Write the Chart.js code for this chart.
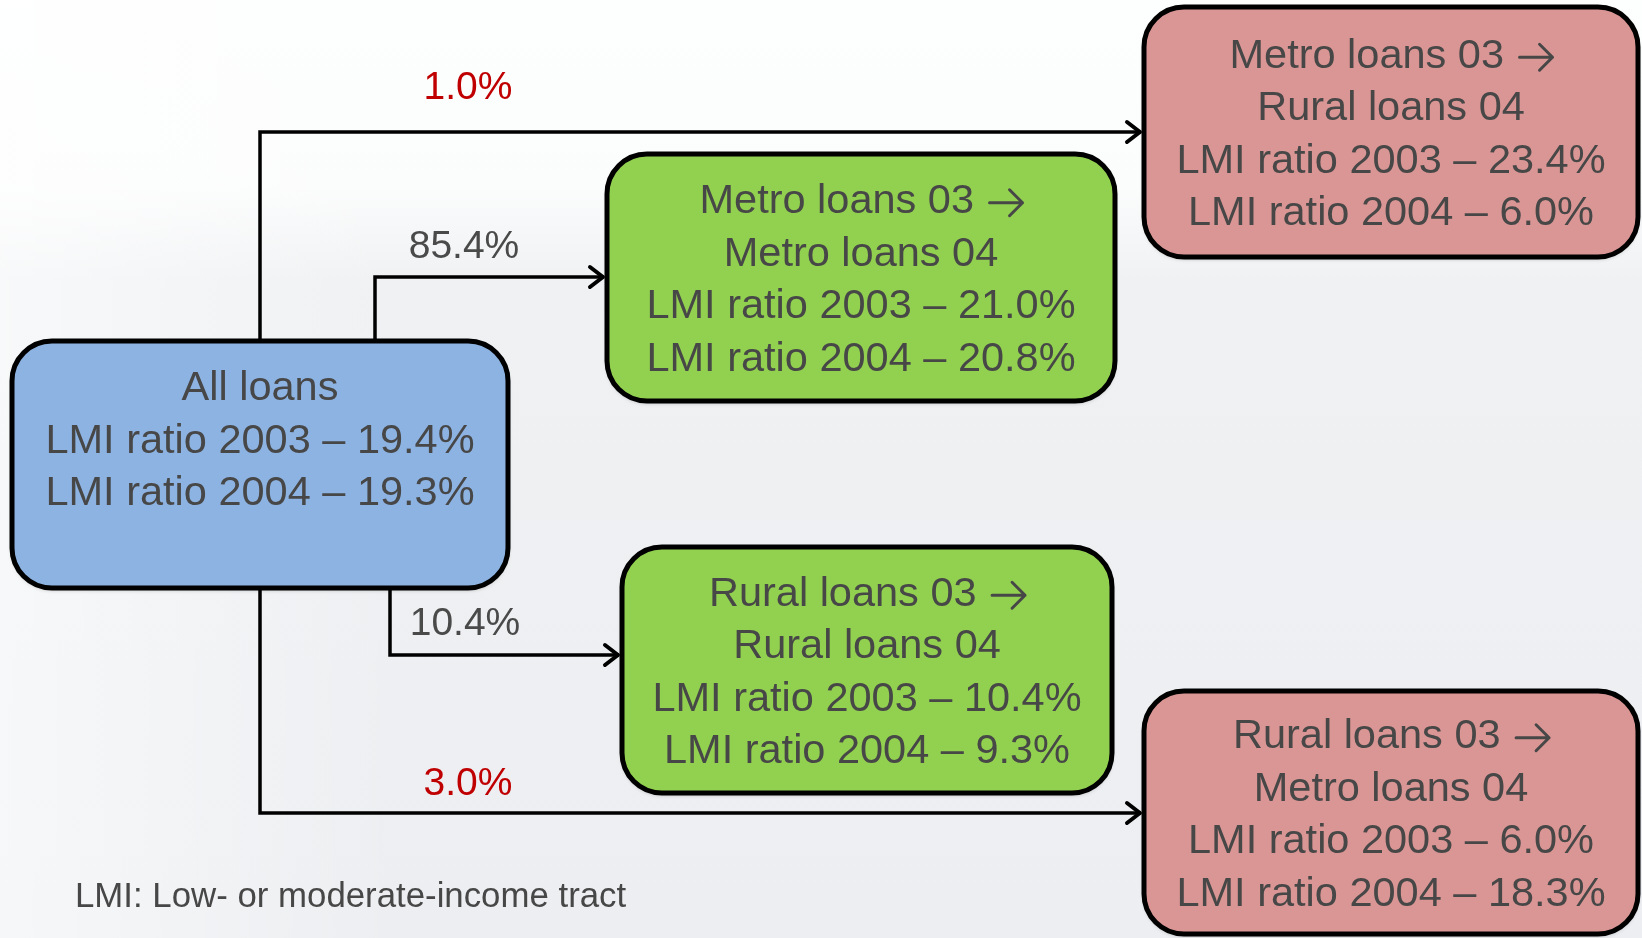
<!DOCTYPE html>
<html>
<head>
<meta charset="utf-8">
<script src="https://cdn.jsdelivr.net/npm/chart.js@4"></script>
<style>
  html, body { margin: 0; padding: 0; overflow: hidden; background: #fff; }
  #flow { display: block; }
</style>
</head>
<body>
<canvas id="flow" width="1642" height="938"></canvas>
<script>
// data: loan groups and LMI ratios
const groups       = ['All loans', 'Metro loans 03', 'Rural loans 03', 'Metro loans 03', 'Rural loans 03'];
const destinations = ['', 'Metro loans 04', 'Rural loans 04', 'Rural loans 04', 'Metro loans 04'];
const lmi2003 = [19.4, 21.0, 10.4, 23.4, 6.0];
const lmi2004 = [19.3, 20.8, 9.3, 6.0, 18.3];
// share of all loans flowing into boxes 1..4
const flowShares = [85.4, 10.4, 1.0, 3.0];
const footnote = 'LMI: Low- or moderate-income tract';

// layout (canvas-sized axis units)
const boxRects  = [[12, 341, 508, 588], [607, 154, 1115, 401], [622, 547, 1112, 793], [1144, 7, 1638, 257], [1144, 691, 1638, 934]];
const boxColors = ['#8db3e2', '#92d050', '#92d050', '#d99694', '#d99694'];
const flowPaths = [
    [[375, 341], [375, 277], [604, 277]],
    [[390, 588], [390, 655], [619, 655]],
    [[260, 341], [260, 132], [1141, 132]],
    [[260, 588], [260, 813], [1141, 813]]
];
const flowLabelPos = [[464, 247], [465, 624], [468, 88], [468, 784]];
const flowColors = ['#4a4a4a', '#4a4a4a', '#c00000', '#c00000'];

const textFont  = '41.5px "Liberation Sans", Arial, sans-serif';
const textColor = '#474747';

// open arrow head used as the point style of the last point on each connector
const arrowHead = document.createElement('canvas');
arrowHead.width = 48; arrowHead.height = 28;
(function () {
    const c = arrowHead.getContext('2d');
    c.strokeStyle = '#000';
    c.lineWidth = 4;
    c.lineCap = 'round';
    c.lineJoin = 'round';
    c.beginPath();
    c.moveTo(10, 4);
    c.lineTo(23, 14);
    c.lineTo(10, 24);
    c.stroke();
})();

const pct = v => v.toFixed(1) + '%';

const datasets = flowPaths.map((p, i) => ({
    label: 'flow ' + (i + 1),
    data: p.map(q => ({ x: q[0], y: q[1] })),
    showLine: true,
    borderColor: '#000',
    borderWidth: 3.5,
    tension: 0,
    pointRadius: ctx => ctx.dataIndex === p.length - 1 ? 10 : 0,
    pointStyle: ctx => ctx.dataIndex === p.length - 1 ? arrowHead : 'circle',
    clip: false
}));

const backdrop = {
    id: 'backdrop',
    beforeDraw(chart) {
        const c = chart.ctx;
        const g = c.createLinearGradient(0, 0, 0, chart.height);
        g.addColorStop(0, '#fdfefe');
        g.addColorStop(0.2, '#fbfcfc');
        g.addColorStop(0.3, '#eff1f3');
        g.addColorStop(1, '#eceef1');
        c.save();
        c.fillStyle = g;
        c.fillRect(0, 0, chart.width, chart.height);
        const g2 = c.createLinearGradient(0, 0, 400, 0);
        g2.addColorStop(0, 'rgba(255,255,255,0.55)');
        g2.addColorStop(1, 'rgba(255,255,255,0)');
        c.fillStyle = g2;
        c.fillRect(0, 0, 400, chart.height);
        c.restore();
    }
};

// "text →" centred; the arrow is stroked so it is as big as in the slide
const ARROW_W = 33;
function textWithArrow(c, t, x, y) {
    c.font = textFont;
    const w1 = c.measureText(t + ' ').width + 4;
    const left = x - (w1 + ARROW_W) / 2;
    c.textAlign = 'left';
    c.fillText(t, left, y);
    const ax = left + w1, ay = y + 1;
    c.save();
    c.strokeStyle = textColor;
    c.lineWidth = 3;
    c.lineCap = 'round';
    c.lineJoin = 'round';
    c.beginPath();
    c.moveTo(ax, ay);
    c.lineTo(ax + ARROW_W, ay);
    c.moveTo(ax + ARROW_W - 13, ay - 13);
    c.lineTo(ax + ARROW_W, ay);
    c.lineTo(ax + ARROW_W - 13, ay + 13);
    c.stroke();
    c.restore();
    c.textAlign = 'center';
}

const boxesAndText = {
    id: 'boxesAndText',
    afterDatasetsDraw(chart) {
        const c = chart.ctx;
        const xs = chart.scales.x, ys = chart.scales.y;
        c.save();
        boxRects.forEach((r, i) => {
            const x0 = xs.getPixelForValue(r[0]), x1 = xs.getPixelForValue(r[2]);
            const y0 = ys.getPixelForValue(r[1]), y1 = ys.getPixelForValue(r[3]);
            c.beginPath();
            c.roundRect(x0, y0, x1 - x0, y1 - y0, 40);
            c.shadowColor = 'rgba(0,0,0,0.25)';
            c.shadowBlur = 4;
            c.shadowOffsetY = 2;
            c.fillStyle = boxColors[i];
            c.fill();
            c.shadowColor = 'transparent';
            c.lineWidth = 5;
            c.strokeStyle = '#000';
            c.stroke();

            const cx = xs.getPixelForValue((r[0] + r[2]) / 2), cy = (r[1] + r[3]) / 2;
            const lineY = k => ys.getPixelForValue(cy + (k - 1.5) * 52.5 + 3);
            c.font = textFont;
            c.fillStyle = textColor;
            c.textAlign = 'center';
            c.textBaseline = 'middle';
            let k = 0;
            if (destinations[i]) {
                textWithArrow(c, groups[i], cx, lineY(k++));
                c.fillText(destinations[i], cx, lineY(k++));
            } else {
                c.fillText(groups[i], cx, lineY(k++));
            }
            c.fillText('LMI ratio 2003 – ' + pct(lmi2003[i]), cx, lineY(k++));
            c.fillText('LMI ratio 2004 – ' + pct(lmi2004[i]), cx, lineY(k++));
        });
        // flow shares
        c.font = '39px "Liberation Sans", Arial, sans-serif';
        c.textAlign = 'center';
        flowShares.forEach((v, i) => {
            c.fillStyle = flowColors[i];
            c.fillText(pct(v), xs.getPixelForValue(flowLabelPos[i][0]), ys.getPixelForValue(flowLabelPos[i][1]));
        });
        // footnote
        c.font = '34.8px "Liberation Sans", Arial, sans-serif';
        c.fillStyle = textColor;
        c.textAlign = 'left';
        c.fillText(footnote, xs.getPixelForValue(75), ys.getPixelForValue(897));
        c.restore();
    }
};

new Chart(document.getElementById('flow'), {
    type: 'scatter',
    data: { datasets: datasets },
    options: {
        responsive: false,
        animation: false,
        devicePixelRatio: 1,
        layout: { padding: 0, autoPadding: false },
        plugins: { legend: { display: false }, tooltip: { enabled: false } },
        scales: {
            x: { type: 'linear', min: 0, max: 1642, display: false },
            y: { type: 'linear', min: 0, max: 938, reverse: true, display: false }
        }
    },
    plugins: [backdrop, boxesAndText]
});
</script>
</body>
</html>
